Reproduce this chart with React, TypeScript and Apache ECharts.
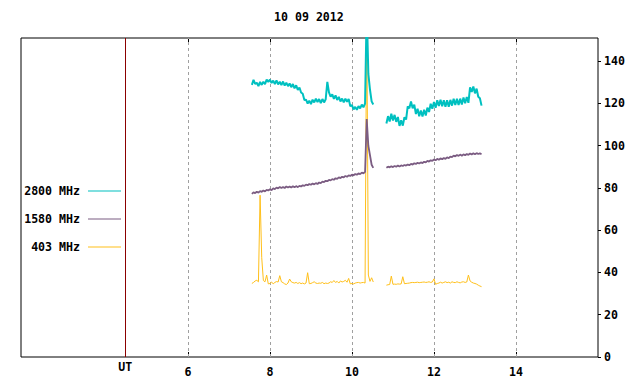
import React, { useEffect, useRef } from 'react';
import * as echarts from 'echarts';

const TITLE = '10 09 2012';
const X_MIN = 1.93;
const X_MAX = 16;
const Y_MIN = 0;
const Y_MAX = 151;
const X_TICKS = [6, 8, 10, 12, 14];
const Y_TICKS = [0, 20, 40, 60, 80, 100, 120, 140];
const UT_HOUR = 4.47;
const UT_LABEL = 'UT';
const GAP_HOUR = 10.68;

const SERIES_NAMES = ['403 MHz', '1580 MHz', '2800 MHz'];
const LEGEND_ORDER = ['2800 MHz', '1580 MHz', '403 MHz'];

const SEG1_START = 7.56;
const SEG2_START = 10.84;
const STEP = 0.04;

// 2800 MHz
const teal1 = [
  128.8, 131.2, 129.3, 129.8, 128.2, 130.2, 128.8, 130.3, 129.2, 131.3, 130.2,
  131.3, 129.7, 130.8, 129.2, 130.9, 129.0, 130.3, 128.7, 130.4, 128.5, 129.8, 128.2, 129.5,
  127.7, 129.2, 127.2, 128.6, 126.4, 127.6, 125.2, 124.6, 121.7, 121.8, 120.0, 121.3,
  119.7, 121.8, 120.5, 122.3, 120.7, 122.1, 120.2, 122.1, 120.5, 122.0, 130.2, 125.3, 123.2,
  124.3, 122.2, 123.8, 121.7, 123.1, 121.0, 122.3, 120.5, 122.3, 120.8, 122.1, 118.7,
  119.2, 117.2, 118.4, 117.0, 118.8, 117.7, 119.5, 118.2, 120.0, 165, 134, 126.5, 121, 119.5,
];
const teal2 = [
  110.5, 114.0, 111.5, 115.2,
  112.0, 114.6, 111.3, 113.6, 109.4, 112.0, 109.5, 113.5, 112.4, 118.6, 117.7, 121.0, 117.7,
  119.5, 115.0, 117.5, 114.0, 116.7, 113.8, 117.0, 114.3, 118.0, 116.0, 119.9, 117.5,
  120.7, 118.0, 121.5, 118.8, 121.8, 118.7, 121.5, 118.5, 121.5, 118.5, 121.7, 119.0, 122.3,
  119.3, 122.3, 119.3, 122.3, 119.5, 122.8, 120.1, 123.1, 120.3, 127.6, 125.5, 128.0,
  124.8, 127.0, 123.2, 122.5, 119.0,
];

// 1580 MHz
const purple1 = [
  77.2, 77.9, 77.6, 78.2, 77.8, 78.5, 78.2, 78.8, 78.4, 79.1, 78.8,
  79.4, 79.0, 79.8, 79.5, 80.2, 79.8, 80.5, 80.0, 80.5, 80.0, 80.7, 80.2, 80.7, 80.2,
  80.8, 80.3, 80.9, 80.4, 81.0, 80.7, 81.3, 81.0, 81.6, 81.3, 81.9,
  81.5, 82.1, 81.7, 82.3, 81.9, 82.6, 82.3, 83.0, 82.8, 83.4, 83.2, 83.8, 83.6,
  84.2, 83.9, 84.6, 84.3, 85.0, 84.7, 85.3, 85.0, 85.7, 85.3, 86.0, 85.7,
  86.3, 86.0, 86.6, 86.3, 86.9, 86.6, 87.3, 86.9, 87.6, 112.6, 100, 95.5, 91, 89.5,
];
const purple2 = [
  89.6, 90.1, 89.8, 90.3,
  89.9, 90.4, 90.1, 90.6, 90.2, 90.7, 90.4, 90.9, 90.6, 91.1, 90.8, 91.4, 91.1,
  91.7, 91.4, 91.9, 91.6, 92.1, 91.8, 92.4, 92.1, 92.8, 92.5, 93.1, 92.8,
  93.5, 93.1, 93.8, 93.4, 94.0, 93.6, 94.2, 93.8, 94.5, 94.1, 94.9, 94.6, 95.3,
  95.0, 95.6, 95.2, 95.8, 95.3, 95.9, 95.5, 96.1, 95.7, 96.3, 95.9, 96.4,
  96.0, 96.5, 96.1, 96.4, 96.0,
];

// 403 MHz
const orange1 = [
  34.8, 35.3, 36.0, 36.3, 35.6, 76.6, 47, 36.2, 35.6, 38.8, 34.6,
  34.8, 35.5, 34.6, 35.3, 35.7, 35.5, 38.5, 35.6, 35.2, 34.6, 34.3, 35.0, 36.9, 35.6,
  35.2, 35.0, 35.3, 34.8, 35.2, 34.7, 35.0, 34.6, 35.0, 39.9, 34.7,
  34.8, 35.2, 35.6, 35.0, 34.8, 35.0, 34.9, 35.3, 34.7, 35.0, 34.8, 35.0, 35.6,
  35.3, 36.2, 35.3, 35.8, 35.0, 36.0, 35.5, 35.8, 36.3, 35.4, 37.2, 34.6,
  34.8, 34.6, 35.0, 35.2, 35.3, 35.0, 35.2, 35.3, 35.0, 165, 38.8, 35.8, 37.5, 35.5,
];
const orange2 = [
  34.0, 34.2, 34.3, 38.3,
  34.4, 34.5, 34.4, 34.6, 34.5, 34.6, 38.0, 34.7, 34.8, 34.9, 35.0, 35.2, 35.3,
  35.2, 35.3, 35.4, 35.2, 35.3, 35.4, 35.5, 35.3, 35.4, 35.6, 35.3, 35.5,
  37.0, 34.4, 34.8, 35.0, 35.4, 35.0, 35.3, 35.6, 35.2, 35.4, 35.0, 35.6, 35.3,
  35.2, 35.6, 35.3, 35.1, 35.5, 35.6, 35.3, 35.5, 38.8, 36.0, 35.4, 35.0,
  34.8, 34.5, 34.0, 33.6, 33.3,
];

const COLORS: Record<string, string> = {
  '2800 MHz': '#00c0c0',
  '1580 MHz': '#7b5c82',
  '403 MHz': '#ffbf1a',
};

function toPairs(start: number, vals: number[]) {
  return vals.map((v, i) => [Number((start + i * STEP).toFixed(2)), v]);
}
function build(s1: number[], s2: number[]) {
  return [...toPairs(SEG1_START, s1), [GAP_HOUR, '-'], ...toPairs(SEG2_START, s2)];
}

const FONT = {
  fontFamily: '"DejaVu Sans Mono", "Liberation Mono", monospace',
  fontWeight: 'bold' as const,
  fontSize: 11.6,
  color: '#000',
};

export default function App() {
  const ref = useRef<HTMLDivElement>(null);
  useEffect(() => {
    if (!ref.current) return;
    const chart = echarts.init(ref.current, undefined, { renderer: 'svg' });
    const dataMap: Record<string, any[]> = {
      '403 MHz': build(orange1, orange2),
      '1580 MHz': build(purple1, purple2),
      '2800 MHz': build(teal1, teal2),
    };
    const widths: Record<string, number> = { '403 MHz': 1, '1580 MHz': 1.8, '2800 MHz': 2 };
    const legendTops = [185, 213, 241];

    const series: any[] = [
      {
        type: 'line',
        name: '__grid',
        data: [],
        silent: true,
        z: 1,
        markLine: {
          silent: true,
          z: 1,
          symbol: 'none',
          label: { show: false },
          lineStyle: { color: '#a0a0a0', type: [3, 3], width: 1 },
          data: X_TICKS.map((v) => ({ xAxis: v })),
        },
      },
      {
        type: 'line',
        name: '__ut',
        data: [],
        silent: true,
        z: 1,
        markLine: {
          silent: true,
          z: 1,
          symbol: 'none',
          lineStyle: { color: '#8b0000', type: 'solid', width: 1 },
          label: {
            show: true,
            position: 'start',
            distance: 4,
            formatter: UT_LABEL,
            ...FONT,
          },
          data: [{ xAxis: UT_HOUR }],
        },
      },
      ...SERIES_NAMES.map((name, i) => ({
        type: 'line',
        name,
        data: dataMap[name],
        showSymbol: false,
        symbol: 'none',
        clip: true,
        z: 2 + i,
        connectNulls: false,
        color: COLORS[name],
        lineStyle: { color: COLORS[name], width: widths[name] },
      })),
    ];

    chart.setOption({
      animation: false,
      backgroundColor: '#fff',
      title: {
        text: TITLE,
        left: 274,
        top: 11,
        padding: 0,
        textStyle: { ...FONT },
      },
      legend: LEGEND_ORDER.map((name, i) => ({
        data: [{ name, itemStyle: { color: COLORS[name], borderWidth: 0, opacity: 1 } }],
        orient: 'vertical',
        right: 519,
        top: legendTops[i],
        align: 'right',
        padding: 0,
        itemWidth: 33,
        itemHeight: 1.2,
        icon: 'rect',
        selectedMode: false,
        itemStyle: { color: COLORS[name], borderWidth: 0 },
        textStyle: { ...FONT, padding: [0, 3, 0, 0] },
      })),
      grid: {
        left: 21,
        right: 42,
        top: 38,
        bottom: 27,
        show: true,
        borderColor: '#000',
        borderWidth: 1,
        backgroundColor: 'transparent',
      },
      xAxis: [
        {
          type: 'value',
          position: 'bottom',
          min: X_MIN,
          max: X_MAX,
          axisLine: { show: false },
          splitLine: { show: false },
          axisTick: { show: true, inside: true, length: 5, customValues: X_TICKS, lineStyle: { color: '#000' } },
          axisLabel: { show: true, customValues: X_TICKS, margin: 9, ...FONT },
        },
        {
          type: 'value',
          position: 'top',
          min: X_MIN,
          max: X_MAX,
          axisLine: { show: false },
          splitLine: { show: false },
          axisTick: { show: true, inside: true, length: 5, customValues: X_TICKS, lineStyle: { color: '#000' } },
          axisLabel: { show: false },
        },
      ],
      yAxis: {
        type: 'value',
        position: 'right',
        min: Y_MIN,
        max: Y_MAX,
        axisLine: { show: false },
        splitLine: { show: false },
        axisTick: { show: true, inside: false, length: 3, customValues: Y_TICKS, lineStyle: { color: '#000' } },
        axisLabel: { show: true, customValues: Y_TICKS, margin: 6, ...FONT },
      },
      series,
    });
    return () => chart.dispose();
  }, []);
  return (
    <div
      ref={ref}
      style={{ position: 'fixed', left: 0, top: 0, width: 640, height: 384, background: '#fff' }}
    />
  );
}
